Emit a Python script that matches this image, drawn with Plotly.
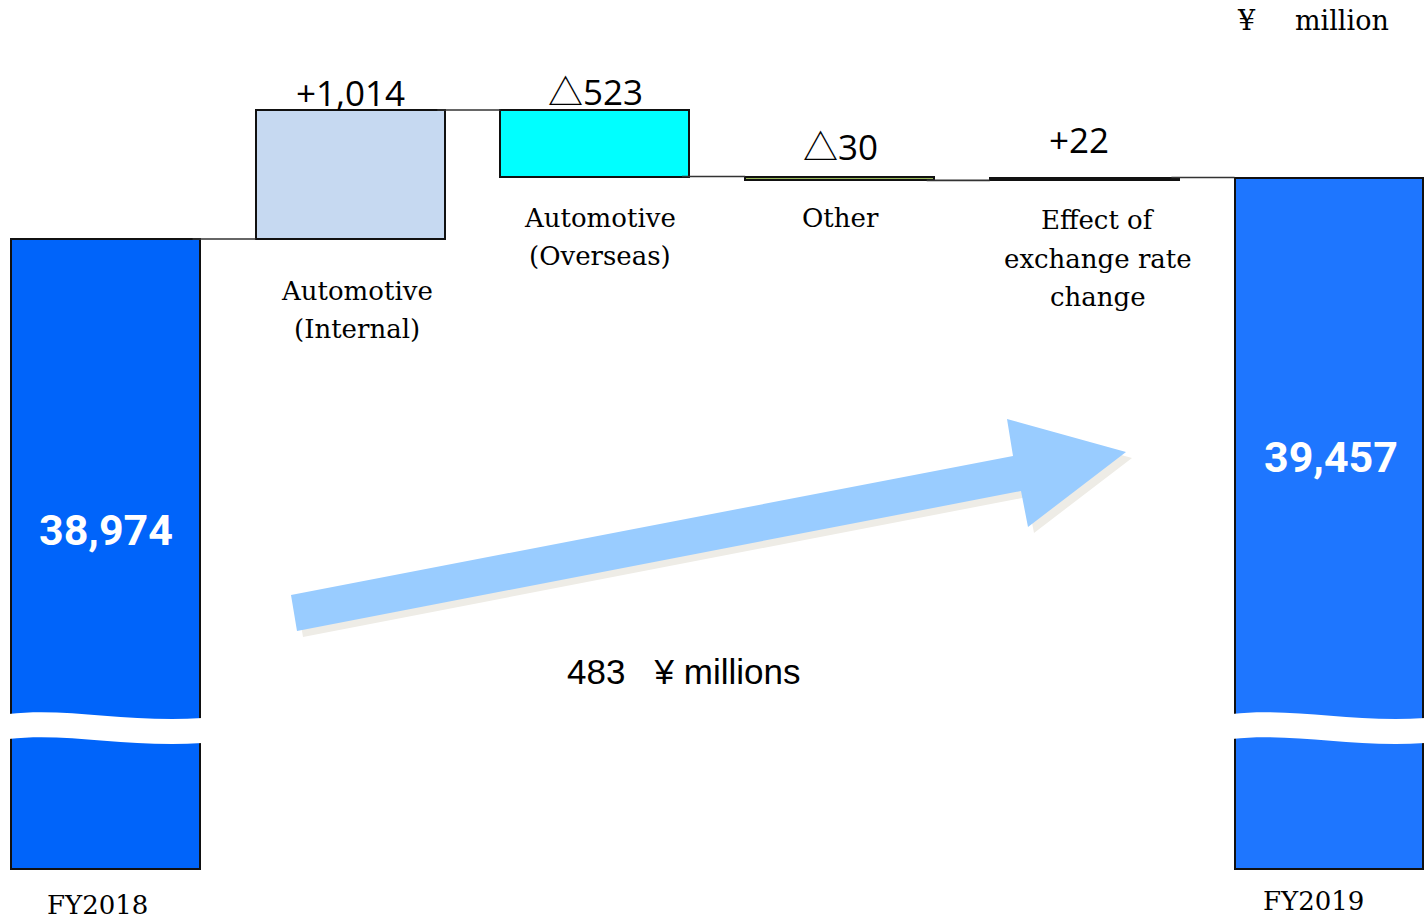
import plotly.graph_objects as go

# ---- data ----
categories = ["FY2018", "Automotive (Internal)", "Automotive (Overseas)",
              "Other", "Effect of exchange rate change", "FY2019"]
label_lines = [["FY2018"], ["Automotive", "(Internal)"], ["Automotive", "(Overseas)"],
               ["Other"], ["Effect of", "exchange rate", "change"], ["FY2019"]]
start_total = 38974
changes = [1014, -523, -30, 22]
end_total = 39457
value_labels = ["38,974", "+1,014", "△523", "△30", "+22", "39,457"]
diff_text = "483\u00a0\u00a0 ¥ millions"
unit_text = ["¥", "million"]

# ---- styling ----
colors = ["#0064FA", "#C6D9F1", "#00FFFF", "#9BBB59", "#FFFFFF", "#1E76FF"]
BAR_W = 0.772
AXIS_MIN, AXIS_MAX = 34005, 40853   # broken axis window
FLOOR = 34020                        # visual bottom of the total bars

# ---- compute waterfall geometry from the data ----
bases, heights, tops, bottoms, levels = [], [], [], [], []
bases.append(FLOOR); heights.append(start_total - FLOOR)
tops.append(start_total); bottoms.append(FLOOR); levels.append(start_total)
run = start_total
for c in changes:
    lo, hi = min(run, run + c), max(run, run + c)
    bases.append(lo); heights.append(hi - lo)
    tops.append(hi); bottoms.append(lo)
    run += c
    levels.append(run)
bases.append(FLOOR); heights.append(end_total - FLOOR)
tops.append(end_total); bottoms.append(FLOOR); levels.append(end_total)

xs = list(range(len(categories)))

fig = go.Figure()
fig.add_trace(go.Bar(
    x=xs, y=heights, base=bases, width=BAR_W,
    marker=dict(color=colors, line=dict(color="#111111", width=2)),
    hovertext=categories, showlegend=False,
))

W, H_PLOT = 1425, 871


def px(x, y):
    return x / W, 1 - y / H_PLOT


shapes = []
# connectors
for i in range(len(xs) - 1):
    shapes.append(dict(type="line", xref="x", yref="y",
                       x0=xs[i] + BAR_W / 2 - 0.03, x1=xs[i + 1] - BAR_W / 2,
                       y0=levels[i], y1=levels[i],
                       line=dict(color="#333333", width=1.6)))

# big arrow (decorative), in pixel-space of the plot area
arrow_pts = [(291, 595), (1013, 456), (1007, 419), (1126, 452),
             (1028, 527), (1021, 491), (297, 631)]


def path_from(pts, dx=0, dy=0):
    s = ""
    for k, (a, b) in enumerate(pts):
        X, Y = px(a + dx, b + dy)
        s += ("M" if k == 0 else "L") + f"{X:.5f},{Y:.5f} "
    return s + "Z"


shapes.append(dict(type="path", xref="paper", yref="paper",
                   path=path_from(arrow_pts, 6, 6),
                   fillcolor="#EEECE6", line=dict(width=0), layer="above"))
shapes.append(dict(type="path", xref="paper", yref="paper",
                   path=path_from(arrow_pts),
                   fillcolor="#99CCFF", line=dict(width=0), layer="above"))

# axis-break waves on the total bars
for i in (0, len(xs) - 1):
    h = BAR_W / 2 + 0.01
    L, R = xs[i] - h, xs[i] + h
    span = R - L
    def yp(v):
        return 1 - v / H_PLOT
    p = (f"M{L},{yp(714)} C{L + 0.3 * span},{yp(707)} {L + 0.62 * span},{yp(723)} {R},{yp(718)} "
         f"L{R},{yp(743)} C{L + 0.62 * span},{yp(748)} {L + 0.3 * span},{yp(732)} {L},{yp(739)} Z")
    shapes.append(dict(type="path", xref="x", yref="paper", path=p,
                       fillcolor="#FFFFFF", line=dict(width=0), layer="above"))

annotations = []
# value labels above change bars
val_shift_y = [18, 21, 32, 38]
val_shift_x = [0, 1, 1, -5]
for k in range(4):
    i = k + 1
    t = value_labels[i].replace(
        "△", "<span style='font-family:\"Noto Sans CJK JP\"'>△</span>")
    annotations.append(dict(x=xs[i], y=tops[i], xref="x", yref="y",
                            text=t, showarrow=False,
                            yanchor="middle", xanchor="center",
                            yshift=val_shift_y[k], xshift=val_shift_x[k],
                            font=dict(family="Open Sans", size=35, color="#000000")))
# totals inside bars
for i, ys, xsft in ((0, -291, 0), (len(xs) - 1, -279, 2)):
    annotations.append(dict(x=xs[i], y=tops[i], xref="x", yref="y",
                            text=f"<b>{value_labels[i]}</b>", showarrow=False,
                            yanchor="middle", xanchor="center", yshift=ys, xshift=xsft,
                            font=dict(family="Roboto", size=43, color="#FFFFFF")))
# category labels
cat_shift_y = [-36, -52, -41, -38, -40, -32]
cat_shift_x = [-8, 7, 5, 1, 14, -16]
LINE_GAP = 38.5
for i, lines in enumerate(label_lines):
    for j, t in enumerate(lines):
        annotations.append(dict(x=xs[i], y=bottoms[i], xref="x", yref="y",
                                text=t, showarrow=False, yanchor="middle",
                                xanchor="center",
                                yshift=cat_shift_y[i] - j * LINE_GAP,
                                xshift=cat_shift_x[i],
                                font=dict(family="DejaVu Serif", size=26, color="#000000")))
# difference text
dx, dy = px(683, 671)
annotations.append(dict(x=dx, y=dy, xref="paper", yref="paper", text=diff_text,
                        showarrow=False, yanchor="middle", xanchor="center",
                        font=dict(family="Liberation Sans", size=35, color="#000000")))
# unit text
for t, cx in zip(unit_text, (1246, 1342)):
    ux, uy = px(cx, 20)
    annotations.append(dict(x=ux, y=uy, xref="paper", yref="paper", text=t,
                            showarrow=False, yanchor="middle", xanchor="center",
                            font=dict(family="DejaVu Serif", size=27, color="#000000")))

x_lo = -105.5 / 244.7
x_hi = (W - 105.5) / 244.7
fig.update_layout(
    width=1425, height=919,
    margin=dict(l=0, r=0, t=0, b=919 - H_PLOT, pad=0),
    paper_bgcolor="#FFFFFF", plot_bgcolor="#FFFFFF",
    xaxis=dict(range=[x_lo, x_hi], visible=False, fixedrange=True),
    yaxis=dict(range=[AXIS_MIN, AXIS_MAX], visible=False, fixedrange=True),
    shapes=shapes, annotations=annotations, showlegend=False,
    bargap=0,
)

fig.write_html("out.html", config={"displayModeBar": False},
               post_script="document.body.style.margin='0';document.body.style.overflow='hidden';")
